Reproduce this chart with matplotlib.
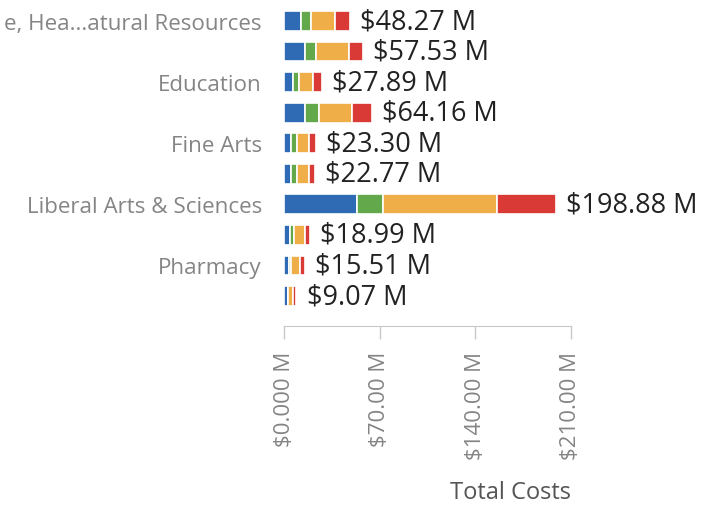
import matplotlib
matplotlib.use("Agg")
import matplotlib.pyplot as plt
import numpy as np

# categories (only every other one gets a visible label)
colleges = ["e, Hea...atural Resources", "Business", "Education", "Engineering",
            "Fine Arts", "Graduate School", "Liberal Arts & Sciences", "Nursing",
            "Pharmacy", "Social Work"]
shown = [True, False, True, False, True, False, True, False, True, False]

# cost components in $M
blue_part = [12.7, 15.2, 6.3, 15.4, 5.3, 5.2, 53.4, 4.3, 3.3, 2.9]
green_part = [7.3, 8.4, 4.4, 10.0, 4.2, 4.0, 19.0, 3.3, 2.0, 0.3]
yellow_part = [17.0, 24.3, 10.5, 24.0, 8.9, 8.8, 83.8, 7.5, 6.7, 3.6]
red_part = [11.27, 9.63, 6.69, 14.76, 4.9, 4.77, 42.68, 3.89, 3.51, 2.27]
totals = [48.27, 57.53, 27.89, 64.16, 23.30, 22.77, 198.88, 18.99, 15.51, 9.07]

x_ticks = [0, 70, 140, 210]
x_tick_labels = ["$0.000 M", "$70.00 M", "$140.00 M", "$210.00 M"]

colors = ["#2e6bb4", "#63a84b", "#efae47", "#d93a36"]

W, H = 710, 506
fig = plt.figure(figsize=(W / 100, H / 100), dpi=100)
ax = fig.add_axes([284 / W, 1 - 327 / H, (571 - 284) / W, 327 / H])

y = np.arange(len(colleges))
left = np.zeros(len(colleges))
for part, col in zip([blue_part, green_part, yellow_part, red_part], colors):
    ax.barh(y, part, left=left, height=0.65, color=col, edgecolor="white", linewidth=1.2)
    left = left + np.array(part)

for i, t in enumerate(totals):
    ax.text(left[i] + 7.5, i, "$%.2f M" % t, va="center", ha="left",
            fontsize=19.5, color="#222222", family="Open Sans", clip_on=False)

ax.set_xlim(0, 210)
ax.set_ylim(9.98, -0.72)

ax.set_yticks([i for i in y if shown[i]])
ax.set_yticklabels([c for c, s in zip(colleges, shown) if s], fontsize=16.1,
                   color="#858585", family="Open Sans")
ax.tick_params(axis="y", length=0, pad=16)

ax.set_xticks(x_ticks)
ax.set_xticklabels(x_tick_labels, rotation=90, fontsize=16, color="#858585",
                   family="Open Sans", va="top")
ax.tick_params(axis="x", length=9.2, color="#c8c8c8", width=1, pad=8.6)

for s in ["top", "right", "left"]:
    ax.spines[s].set_visible(False)
ax.spines["bottom"].set_color("#c8c8c8")

ax.set_xlabel("Total Costs", loc="right", fontsize=17, color="#555555",
              family="Open Sans", labelpad=15)

fig.savefig("out.png", dpi=100)
